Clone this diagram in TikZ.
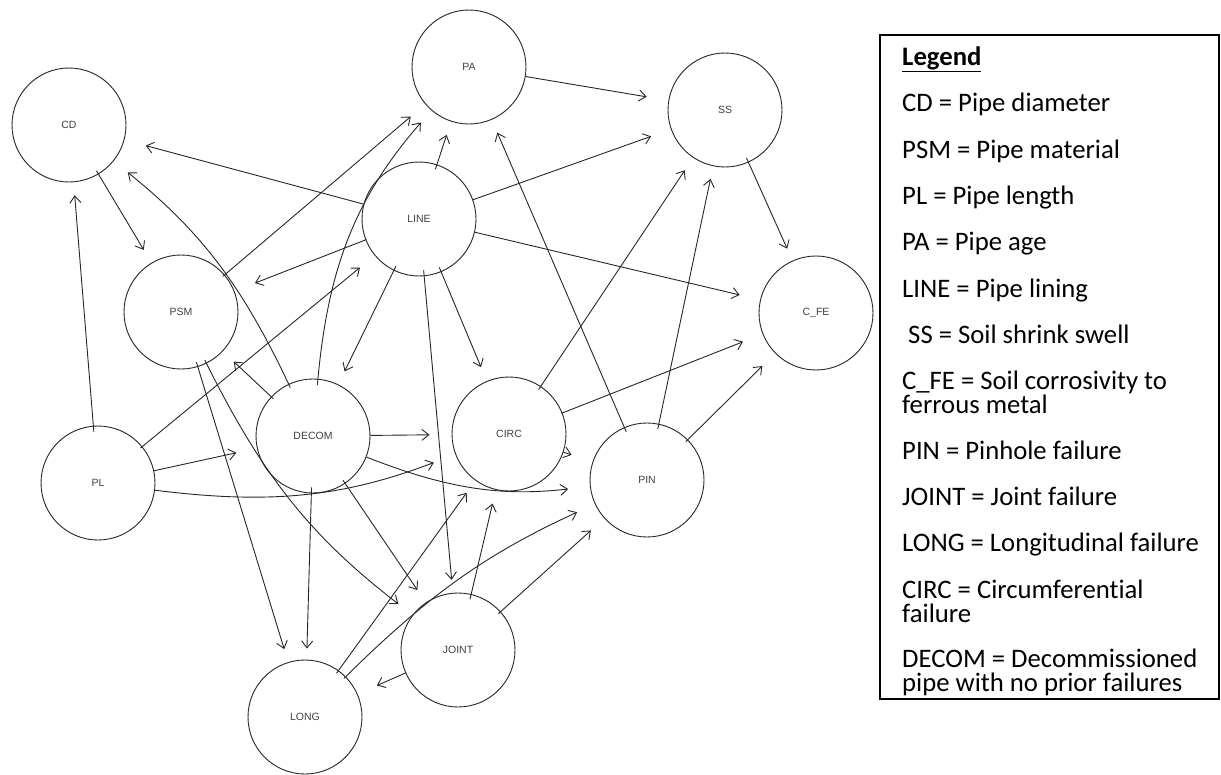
\documentclass[tikz,border=0pt]{standalone}
\usepackage{fontspec}
\setmainfont[Ligatures=NoCommon]{Carlito}
\newfontfamily\lblfont{Liberation Sans}
\usetikzlibrary{arrows.meta}
\begin{document}
\begin{tikzpicture}[x=1pt,y=-1pt,
  vnode/.style={circle, draw=black!85, fill=white, line width=0.9pt, minimum size=114pt, inner sep=0pt,
    font=\lblfont\fontsize{10.5}{12}\selectfont, text=black!75},
  conn/.style={draw=black!85, line width=0.9pt,
    -{Straight Barb[length=7pt,width=11pt,line width=0.9pt]}},
  legtext/.style={anchor=base west, inner sep=0pt, align=left, font=\fontsize{26.7}{24}\selectfont},
]
\useasboundingbox (0,0) rectangle (1221,774);

% variable nodes
\node[vnode] (CD)    at (69,125)  {CD};
\node[vnode] (PA)    at (469,67)  {PA};
\node[vnode] (SS)    at (725,110) {SS};
\node[vnode] (LINE)  at (419,219) {LINE};
\node[vnode] (CFE)   at (816,313) {C\_FE};
\node[vnode] (PSM)   at (181,312) {PSM};
\node[vnode] (DECOM) at (313,436) {DECOM};
\node[vnode] (PL)    at (98,483)  {PL};
\node[vnode] (CIRC)  at (509,434) {CIRC};
\node[vnode] (PIN)   at (647,480) {PIN};
\node[vnode] (JOINT) at (458,650) {JOINT};
\node[vnode] (LONG)  at (305,717) {LONG};

% connectors
\draw[conn, shorten >=22pt] (PA) -- (SS);
\draw[conn, shorten <=-5pt, shorten >=14pt] (LINE) -- (PA);
\draw[conn, shorten >=21pt] (LINE) -- (SS);
\draw[conn, shorten >=21pt] (LINE) -- (CFE);
\draw[conn, shorten >=22pt] (LINE) -- (CD);
\draw[conn, shorten <=-1pt, shorten >=22pt] (LINE) -- (PSM);
\draw[conn, shorten <=-5pt, shorten >=14.5pt] (LINE) -- (DECOM);
\draw[conn, shorten <=-5pt, shorten >=15pt] (LINE) -- (CIRC);
\draw[conn, shorten <=-6pt, shorten >=13pt] (LINE) -- (JOINT);
\draw[conn, shorten <=-2.5pt, shorten >=19pt] (PSM) -- (PA);
\draw[conn, shorten <=-6pt, shorten >=16pt] (DECOM) to[bend left=18] (PA);
\draw[conn, shorten <=-4pt, shorten >=18pt] (DECOM) to[bend right=13] (CD);
\draw[conn, shorten <=-3pt, shorten >=15pt] (DECOM) -- (PSM);
\draw[conn, shorten <=-4pt, shorten >=15pt] (CD) -- (PSM);
\draw[conn, shorten <=-6pt, shorten >=13pt] (PL) -- (CD);
\draw[conn, shorten <=-2.5pt, shorten >=19pt] (PL) -- (LINE);
\draw[conn, shorten >=21pt] (PL) -- (DECOM);
\draw[conn, shorten >=23pt] (PL) to[bend right=14] (CIRC);
\draw[conn, shorten >=22pt] (DECOM) to[bend right=14] (PIN);
\draw[conn, shorten >=22pt] (DECOM) -- (CIRC);
\draw[conn, shorten >=22pt] (CIRC) -- (PIN);
\draw[conn, shorten <=-4pt, shorten >=18pt] (PSM) to[bend right=13] (JOINT);
\draw[conn, shorten <=-5pt, shorten >=13.5pt] (PSM) -- (LONG);
\draw[conn, shorten <=-6pt, shorten >=11pt] (DECOM) -- (LONG);
\draw[conn, shorten <=-4pt, shorten >=15pt] (DECOM) -- (JOINT);
\draw[conn, shorten <=-3.5pt, shorten >=15pt] (LONG) -- (CIRC);
\draw[conn, shorten <=-5.5pt, shorten >=14pt] (JOINT) -- (CIRC);
\draw[conn, shorten <=-2.5pt, shorten >=19.5pt] (LONG) to[bend left=10] (PIN);
\draw[conn, shorten <=-3pt, shorten >=18pt] (JOINT) -- (PIN);
\draw[conn, shorten <=-1pt, shorten >=21pt] (JOINT) -- (LONG);
\draw[conn, shorten <=-4pt, shorten >=15pt] (CIRC) -- (SS);
\draw[conn, shorten <=-1pt, shorten >=21pt] (CIRC) -- (CFE);
\draw[conn, shorten <=-5pt, shorten >=14pt] (PIN) -- (PA);
\draw[conn, shorten <=-5.5pt, shorten >=13pt] (PIN) -- (SS);
\draw[conn, shorten <=-3pt, shorten >=18pt] (PIN) -- (CFE);
\draw[conn, shorten <=-5pt, shorten >=13pt] (SS) -- (CFE);

% legend
\draw[line width=2pt] (880,35) rectangle (1219,699);
\node[legtext] (lg0)  at (902,65)    {\textbf{\underline{Legend}}};
\node[legtext] (lg1)  at (902,111.7) {CD = Pipe diameter};
\node[legtext] (lg2)  at (902,158)   {PSM = Pipe material};
\node[legtext] (lg3)  at (902,204.3) {PL = Pipe length};
\node[legtext] (lg4)  at (902,250.6) {PA = Pipe age};
\node[legtext] (lg5)  at (902,297)   {LINE = Pipe lining};
\node[legtext] (lg6)  at (902,343.2) {\ SS = Soil shrink swell};
\node[legtext] (lg7)  at (902,413.5) {C\_FE = Soil corrosivity to\\ferrous metal};
\node[legtext] (lg8)  at (902,459)   {PIN = Pinhole failure};
\node[legtext] (lg9)  at (902,505.3) {JOINT = Joint failure};
\node[legtext] (lg10) at (902,551.6) {LONG = Longitudinal failure};
\node[legtext] (lg11) at (902,622)   {CIRC = Circumferential\\failure};
\node[legtext] (lg12) at (902,691)   {DECOM = Decommissioned\\pipe with no prior failures};
\end{tikzpicture}
\end{document}
